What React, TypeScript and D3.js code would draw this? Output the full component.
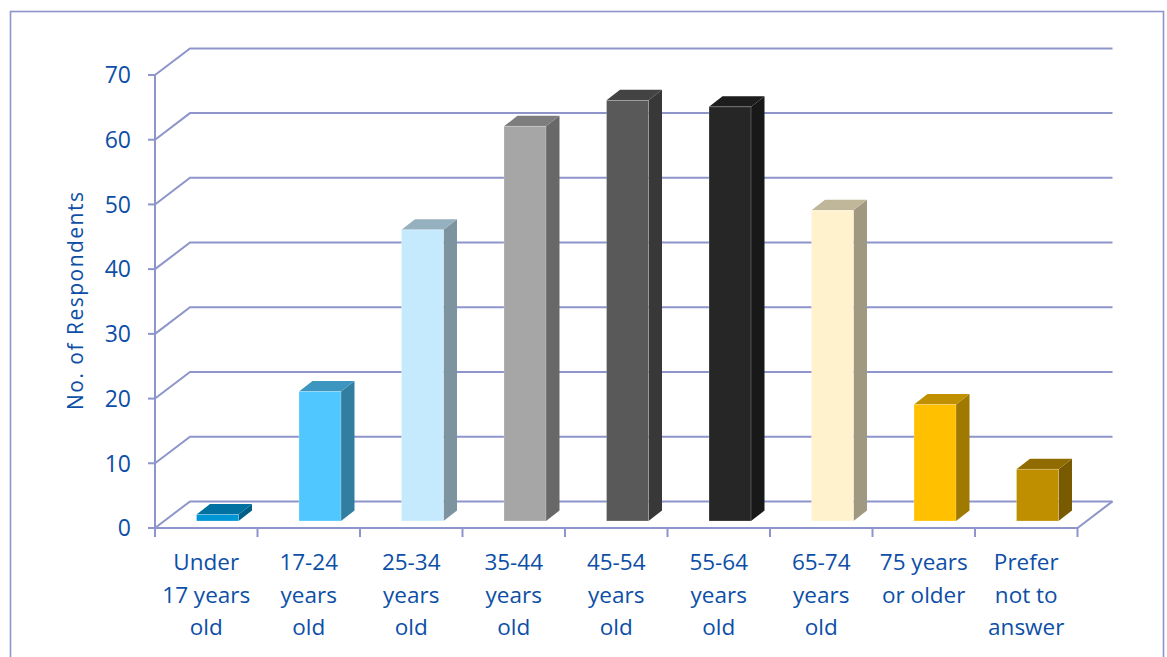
import React from "react";
import * as d3 from "d3";

// Age groups of respondents and their counts
const categories: string[][] = [
  ["Under", "17 years", "old"],
  ["17-24", "years", "old"],
  ["25-34", "years", "old"],
  ["35-44", "years", "old"],
  ["45-54", "years", "old"],
  ["55-64", "years", "old"],
  ["65-74", "years", "old"],
  ["75 years", "or older"],
  ["Prefer", "not to", "answer"],
];
const respondents: number[] = [1, 20, 45, 61, 65, 64, 48, 18, 8];
const yTicks: number[] = [0, 10, 20, 30, 40, 50, 60, 70];
const frontColors: string[] = [
  "#0096d6",
  "#50c8ff",
  "#c6eafd",
  "#a6a6a6",
  "#595959",
  "#262626",
  "#fff2cc",
  "#ffc000",
  "#bf8f00",
];

const W = 1167;
const H = 657;
const GRID = "#8d95cb";
const TEXT = "#0d4fa6";
const FONT = "'Open Sans', sans-serif";

// Oblique 3D projection: wall depth and bar placement
const WALL_DX = 35;
const WALL_DY = -26.6;
const BAR_SHIFT_X = 11.25;
const BAR_SHIFT_Y = -7;
const BAR_DX = 13.5;
const BAR_DY = -10.5;
const BAR_W = 42;

export default function App() {
  const x = d3
    .scaleBand<number>()
    .domain(d3.range(categories.length))
    .range([155, 1077.5])
    .padding(0);
  const y = d3.scaleLinear().domain([0, 70]).range([528, 75]);

  const x0 = x.range()[0];
  const x1 = x.range()[1];
  const y0 = y(0);

  const bars = respondents.map((v, i) => {
    const cx = (x(i) as number) + x.bandwidth() / 2 + BAR_SHIFT_X;
    const left = cx - BAR_W / 2;
    const right = cx + BAR_W / 2;
    const bottom = y(0) + BAR_SHIFT_Y;
    const top = y(v) + BAR_SHIFT_Y;
    const front = d3.rgb(frontColors[i]);
    const topC = front.darker(0.8).formatHex();
    const sideC = front.darker(1.3).formatHex();
    const topPts = [
      [left, top],
      [right, top],
      [right + BAR_DX, top + BAR_DY],
      [left + BAR_DX, top + BAR_DY],
    ];
    const sidePts = [
      [right, top],
      [right + BAR_DX, top + BAR_DY],
      [right + BAR_DX, bottom + BAR_DY],
      [right, bottom],
    ];
    return (
      <g key={i}>
        <polygon points={sidePts.map((p) => p.join(",")).join(" ")} fill={sideC} />
        <polygon points={topPts.map((p) => p.join(",")).join(" ")} fill={topC} />
        <rect
          x={left}
          y={top}
          width={BAR_W}
          height={bottom - top}
          fill={frontColors[i]}
          stroke="rgba(255,255,255,0.3)"
          strokeWidth={0.8}
        />
      </g>
    );
  });

  return (
    <svg
      width={W}
      height={H}
      style={{ position: "absolute", left: 0, top: 0, background: "#fff" }}
    >
      {/* chart frame */}
      <rect x={10.5} y={11.5} width={1153} height={H + 10} fill="none" stroke={GRID} strokeWidth={1.6} />

      {/* back wall and left wall gridlines */}
      {yTicks.map((t) => (
        <polyline
          key={t}
          points={`${x0},${y(t)} ${x0 + WALL_DX},${y(t) + WALL_DY} ${x1 + WALL_DX},${y(t) + WALL_DY}`}
          fill="none"
          stroke={GRID}
          strokeWidth={2}
        />
      ))}

      {/* floor edges */}
      <polyline
        points={`${x0},${y0} ${x1},${y0} ${x1 + WALL_DX},${y0 + WALL_DY}`}
        fill="none"
        stroke={GRID}
        strokeWidth={2}
      />

      {/* value axis */}
      <line x1={x0} x2={x0} y1={y(70)} y2={y0 + 9} stroke={GRID} strokeWidth={2} />
      {yTicks.map((t) => (
        <g key={t}>
          <line x1={x0 - 7} x2={x0} y1={y(t)} y2={y(t)} stroke={GRID} strokeWidth={2} />
          <text
            x={131}
            y={y(t)}
            dy="0.36em"
            textAnchor="end"
            fontFamily={FONT}
            fontSize={23}
            fill={TEXT}
          >
            {t}
          </text>
        </g>
      ))}

      {/* category ticks */}
      {d3.range(categories.length + 1).map((i) => {
        const tx = x0 + i * x.bandwidth();
        return <line key={i} x1={tx} x2={tx} y1={y0} y2={y0 + 9} stroke={GRID} strokeWidth={2} />;
      })}

      {bars}

      {/* category labels */}
      {categories.map((lines, i) => {
        const cx = (x(i) as number) + x.bandwidth() / 2;
        return (
          <text key={i} textAnchor="middle" fontFamily={FONT} fontSize={22.5} fill={TEXT}>
            {lines.map((ln, j) => (
              <tspan key={j} x={cx} y={570 + j * 32.7}>
                {ln}
              </tspan>
            ))}
          </text>
        );
      })}

      {/* axis title */}
      <text
        transform="translate(83,301) rotate(-90)"
        textAnchor="middle"
        fontFamily={FONT}
        fontSize={21}
        fill={TEXT}
        textLength={218}
        lengthAdjust="spacing"
      >
        No. of Respondents
      </text>
    </svg>
  );
}
